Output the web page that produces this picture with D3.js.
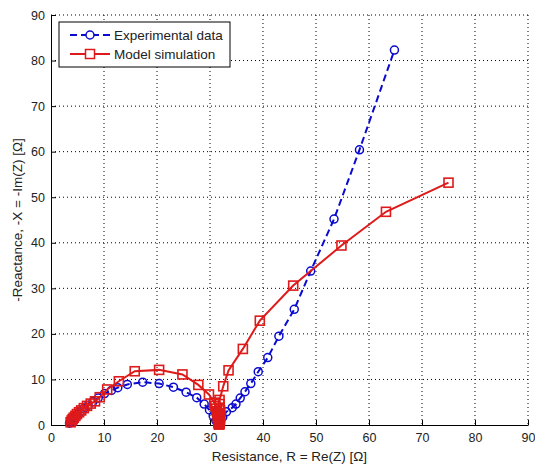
<!DOCTYPE html>
<html>
<head>
<meta charset="utf-8">
<script src="https://cdn.jsdelivr.net/npm/d3@7"></script>
<style>
  body { margin: 0; background: #fff; }
  svg text { font-family: "Liberation Sans", Arial, sans-serif; fill: #222; }
</style>
</head>
<body>
<svg id="chart"></svg>
<script>
// Experimental data [R, -X]
const experimental = [
  [3.5, 0.4], [3.7, 0.8], [4.0, 1.2], [4.4, 1.7], [4.9, 2.3], [5.5, 2.9], [6.2, 3.6],
  [7.0, 4.3], [7.9, 5.1], [8.9, 5.9], [10.1, 6.9], [11.4, 7.6], [12.6, 8.2], [14.4, 8.9],
  [17.3, 9.4], [20.4, 9.1], [23.1, 8.3], [25.5, 7.2], [27.5, 6.0], [28.9, 4.6],
  [29.9, 3.3], [30.6, 2.0], [31.1, 1.0], [31.4, 0.4], [31.6, 0.2], [31.9, 0.8],
  [32.4, 1.7], [33.1, 2.9], [34.2, 3.8], [34.9, 4.6], [35.7, 5.9], [36.6, 7.3],
  [37.7, 9.1], [39.1, 11.7], [40.9, 14.8], [43.0, 19.5], [45.9, 25.4], [49.0, 33.8],
  [53.4, 45.2], [58.2, 60.4], [64.8, 82.3]
];

// Model simulation [R, -X]
const model = [
  [3.7, 0.6], [3.9, 1.0], [4.1, 1.3], [4.3, 1.6], [4.6, 2.0], [4.9, 2.4], [5.3, 2.8],
  [5.7, 3.2], [6.2, 3.7], [6.8, 4.2], [7.5, 4.7], [8.3, 5.2], [9.2, 6.1], [10.6, 7.8],
  [12.8, 9.6], [15.8, 11.8], [20.4, 12.1], [24.8, 11.1], [27.8, 8.8], [29.8, 6.7],
  [30.8, 4.9], [31.0, 4.2], [31.2, 3.6], [31.3, 3.0], [31.4, 2.5], [31.5, 2.0],
  [31.5, 1.6], [31.6, 1.2], [31.6, 0.9], [31.6, 0.6], [31.6, 0.4], [31.7, 0.2],
  [31.7, 0.1], [31.8, 0.2], [31.8, 0.3], [31.8, 0.5], [31.8, 0.8], [31.9, 1.2],
  [31.9, 1.6], [31.9, 2.1], [31.9, 2.6], [31.9, 3.2], [31.8, 3.8], [31.8, 4.6],
  [31.8, 5.5], [32.5, 8.5], [33.5, 12.0], [36.2, 16.7], [39.4, 22.9], [45.7, 30.6],
  [54.8, 39.4], [63.2, 46.8], [75.0, 53.2]
];

const xTicks = [0, 10, 20, 30, 40, 50, 60, 70, 80, 90];
const yTicks = [0, 10, 20, 30, 40, 50, 60, 70, 80, 90];
const seriesNames = ["Experimental data", "Model simulation"];

const margin = { top: 15, right: 7, bottom: 43, left: 51 };
const width = 535 - margin.left - margin.right;
const height = 468 - margin.top - margin.bottom;

const blue = "#0a0ad0";
const red = "#de1a1a";

const svgRoot = d3.select("#chart")
    .attr("width", 535)
    .attr("height", 468);

const svg = svgRoot.append("g")
    .attr("transform", `translate(${margin.left},${margin.top})`);

const x = d3.scaleLinear().domain([0, 90]).range([0, width]);
const y = d3.scaleLinear().domain([0, 90]).range([height, 0]);

// dotted grid
svg.append("g")
  .selectAll("line")
  .data(xTicks.filter(d => d > 0))
  .enter().append("line")
    .attr("x1", d => x(d)).attr("x2", d => x(d))
    .attr("y1", 0).attr("y2", height)
    .attr("stroke", "#000")
    .attr("stroke-dasharray", "1,3");

svg.append("g")
  .selectAll("line")
  .data(yTicks.filter(d => d > 0))
  .enter().append("line")
    .attr("x1", 0).attr("x2", width)
    .attr("y1", d => y(d)).attr("y2", d => y(d))
    .attr("stroke", "#000")
    .attr("stroke-dasharray", "1,3");

// axes
const xAxis = svg.append("g")
    .attr("transform", `translate(0,${height})`)
    .call(d3.axisBottom(x).tickValues(xTicks).tickSizeInner(-5).tickSizeOuter(0).tickPadding(8));

const yAxis = svg.append("g")
    .call(d3.axisLeft(y).tickValues(yTicks).tickSizeInner(-5).tickSizeOuter(0).tickPadding(6));

[xAxis, yAxis].forEach(a => {
  a.select(".domain").attr("stroke", "#000");
  a.selectAll(".tick line").attr("stroke", "#000");
  a.selectAll(".tick text")
    .style("font-size", "12.5px")
    .style("font-family", '"Liberation Sans", Arial, sans-serif')
    .attr("fill", "#222");
});

// axis labels
svg.append("text")
    .attr("x", width / 2)
    .attr("y", height + 36)
    .attr("text-anchor", "middle")
    .style("font-size", "13.5px")
    .text("Resistance, R = Re(Z) [Ω]");

svg.append("text")
    .attr("transform", `translate(${22 - margin.left},${height / 2}) rotate(-90)`)
    .attr("text-anchor", "middle")
    .style("font-size", "13.5px")
    .text("-Reactance, -X = -Im(Z) [Ω]");

const line = d3.line()
    .x(d => x(d[0]))
    .y(d => y(d[1]));

// experimental: dashed blue with circles
svg.append("path")
    .datum(experimental)
    .attr("d", line)
    .attr("fill", "none")
    .attr("stroke", blue)
    .attr("stroke-width", 2)
    .attr("stroke-dasharray", "7,4");

svg.append("g")
  .selectAll("circle")
  .data(experimental)
  .enter().append("circle")
    .attr("cx", d => x(d[0]))
    .attr("cy", d => y(d[1]))
    .attr("r", 4)
    .attr("fill", "none")
    .attr("stroke", blue)
    .attr("stroke-width", 1.5);

// model: solid red with squares
svg.append("path")
    .datum(model)
    .attr("d", line)
    .attr("fill", "none")
    .attr("stroke", red)
    .attr("stroke-width", 2);

svg.append("g")
  .selectAll("rect")
  .data(model)
  .enter().append("rect")
    .attr("x", d => x(d[0]) - 4.5)
    .attr("y", d => y(d[1]) - 4.5)
    .attr("width", 9)
    .attr("height", 9)
    .attr("fill", "none")
    .attr("stroke", red)
    .attr("stroke-width", 1.6);

// legend
const legend = svg.append("g")
    .attr("transform", `translate(${59 - margin.left},${22 - margin.top})`);

legend.append("rect")
    .attr("width", 171)
    .attr("height", 45)
    .attr("fill", "#fff")
    .attr("stroke", "#000");

const items = legend.selectAll(".item")
    .data(seriesNames)
    .enter().append("g")
    .attr("class", "item")
    .attr("transform", (d, i) => `translate(0,${13 + i * 19})`);

items.append("line")
    .attr("x1", 11).attr("x2", 51)
    .attr("stroke", (d, i) => i === 0 ? blue : red)
    .attr("stroke-width", 2)
    .attr("stroke-dasharray", (d, i) => i === 0 ? "7,4" : null);

items.filter((d, i) => i === 0).append("circle")
    .attr("cx", 31).attr("r", 4)
    .attr("fill", "#fff")
    .attr("stroke", blue)
    .attr("stroke-width", 1.5);

items.filter((d, i) => i === 1).append("rect")
    .attr("x", 26.5).attr("y", -4.5)
    .attr("width", 9).attr("height", 9)
    .attr("fill", "#fff")
    .attr("stroke", red)
    .attr("stroke-width", 1.5);

items.append("text")
    .attr("x", 55)
    .attr("dy", "0.35em")
    .style("font-size", "13.5px")
    .text(d => d);
</script>
</body>
</html>
